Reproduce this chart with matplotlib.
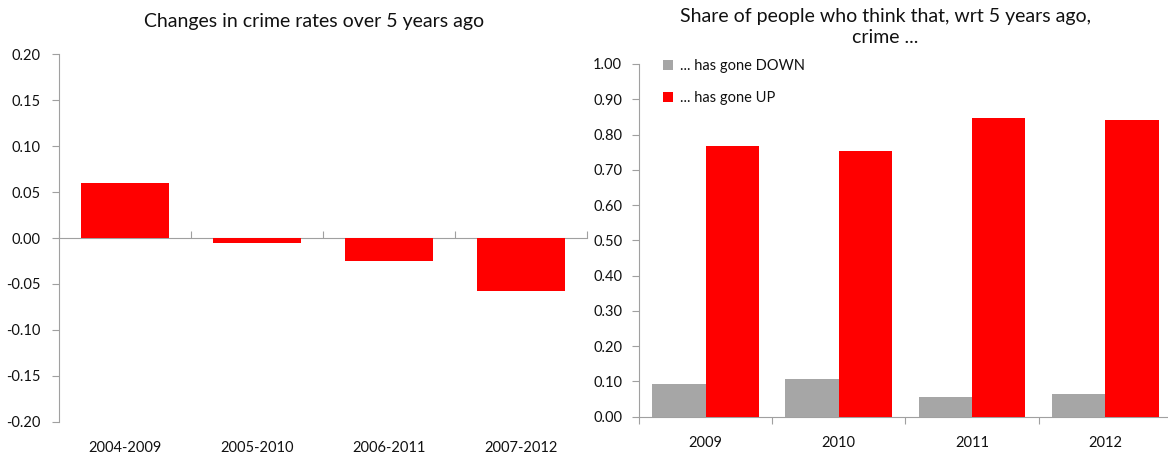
import numpy as np
import matplotlib.pyplot as plt

plt.rcParams['font.family'] = ['Lato', 'DejaVu Sans']

# left panel data
periods = ['2004-2009', '2005-2010', '2006-2011', '2007-2012']
crime_change = [0.060, -0.005, -0.025, -0.058]

# right panel data
years = ['2009', '2010', '2011', '2012']
share_down = [0.092, 0.106, 0.057, 0.065]
share_up = [0.768, 0.752, 0.846, 0.841]

RED = '#ff0000'
GREY = '#a6a6a6'
AXC = '#a0a0a0'
TXT = '#111111'

fig = plt.figure(figsize=(11.68, 4.57), dpi=100)

# ---- left: changes in crime rates
ax1 = fig.add_axes([0.0505, 0.0772, 0.452, 0.8038])
x = np.arange(len(periods))
ax1.bar(x, crime_change, width=0.67, color=RED, zorder=3)
ax1.set_xlim(-0.5, len(periods) - 0.5)
ax1.set_ylim(-0.2, 0.2)
yt1 = np.round(np.arange(-0.2, 0.201, 0.05), 2)
ax1.set_yticks(yt1)
ax1.set_yticklabels([f'{v:.2f}'.replace('-0.00', '0.00') for v in yt1])
for s in ['top', 'right', 'bottom']:
    ax1.spines[s].set_visible(False)
ax1.spines['left'].set_color(AXC)
ax1.tick_params(axis='y', colors=AXC, labelcolor=TXT, length=5, pad=8, labelsize=10.5)
ax1.set_xticks(x)
ax1.set_xticklabels(periods)
ax1.tick_params(axis='x', length=0, pad=14, labelsize=10.5, labelcolor=TXT)
# zero line with ticks between categories
sec = ax1.secondary_xaxis(0.5)
sec.set_xticks(np.arange(-0.5, len(periods), 1.0))
sec.set_xticklabels([])
for sp in sec.spines.values():
    sp.set_color(AXC)
sec.tick_params(axis='x', colors=AXC, length=5, direction='out')
fig.text(314 / 1168, 1 - 22 / 457, 'Changes in crime rates over 5 years ago',
         ha='center', va='center', fontsize=14, color=TXT)

# ---- right: share of people
ax2 = fig.add_axes([0.547, 0.0882, 0.4564, 0.7718])
x2 = np.arange(len(years))
bw = 0.4
ax2.bar(x2 - bw / 2, share_down, width=bw, color=GREY, zorder=3, label='... has gone DOWN')
ax2.bar(x2 + bw / 2, share_up, width=bw, color=RED, zorder=3, label='... has gone UP')
ax2.set_xlim(-0.5, len(years) - 0.5)
ax2.set_ylim(0, 1.0)
yt2 = np.round(np.arange(0, 1.001, 0.1), 2)
ax2.set_yticks(yt2)
ax2.set_yticklabels([f'{v:.2f}' for v in yt2])
for s in ['top', 'right']:
    ax2.spines[s].set_visible(False)
ax2.spines['left'].set_color(AXC)
ax2.spines['bottom'].set_color(AXC)
ax2.tick_params(axis='y', colors=AXC, labelcolor=TXT, length=5, pad=7, labelsize=10.5)
ax2.set_xticks(np.arange(-0.5, len(years), 1.0))
ax2.set_xticklabels([])
ax2.tick_params(axis='x', which='major', colors=AXC, length=5)
ax2.set_xticks(x2, minor=True)
ax2.set_xticklabels(years, minor=True)
ax2.tick_params(axis='x', which='minor', length=0, pad=14, labelsize=10.5, labelcolor=TXT)
ax2.legend(loc='upper left', bbox_to_anchor=(0.02, 1.05), frameon=False,
           fontsize=10.5, handlelength=0.7, handleheight=0.7, handletextpad=0.5,
           labelspacing=1.2, labelcolor=TXT)
fig.text(885.6 / 1168, 1 - 27 / 457, 'Share of people who think that, wrt 5 years ago,\ncrime ...',
         ha='center', va='center', fontsize=14, color=TXT, linespacing=1.3)

fig.savefig('out.png', dpi=100)
